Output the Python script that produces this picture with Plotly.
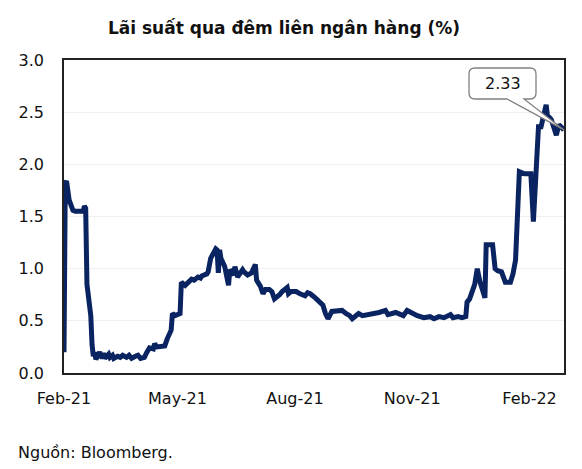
import plotly.graph_objects as go

dates = [
    "2021-02-01", "2021-02-02", "2021-02-03", "2021-02-04", "2021-02-05", "2021-02-08",
    "2021-02-09", "2021-02-10", "2021-02-15", "2021-02-16", "2021-02-17", "2021-02-18",
    "2021-02-19", "2021-02-22", "2021-02-23", "2021-02-24", "2021-02-25", "2021-02-26",
    "2021-03-01", "2021-03-02", "2021-03-03", "2021-03-04", "2021-03-05", "2021-03-08",
    "2021-03-09", "2021-03-11", "2021-03-12", "2021-03-15", "2021-03-17", "2021-03-19",
    "2021-03-22", "2021-03-24", "2021-03-26", "2021-03-29", "2021-03-31", "2021-04-02",
    "2021-04-05", "2021-04-07", "2021-04-09", "2021-04-12", "2021-04-13", "2021-04-15",
    "2021-04-19", "2021-04-21", "2021-04-23", "2021-04-26", "2021-04-27", "2021-04-29",
    "2021-05-03", "2021-05-04", "2021-05-07", "2021-05-10", "2021-05-12", "2021-05-14",
    "2021-05-17", "2021-05-19", "2021-05-20", "2021-05-24", "2021-05-25", "2021-05-27",
    "2021-05-31", "2021-06-01", "2021-06-02", "2021-06-03", "2021-06-04", "2021-06-07",
    "2021-06-08", "2021-06-10", "2021-06-11", "2021-06-14", "2021-06-15", "2021-06-17",
    "2021-06-21", "2021-06-22", "2021-06-25", "2021-06-28", "2021-07-01", "2021-07-02",
    "2021-07-05", "2021-07-07", "2021-07-09", "2021-07-12", "2021-07-14", "2021-07-16",
    "2021-07-20", "2021-07-22", "2021-07-26", "2021-07-27", "2021-07-29", "2021-08-02",
    "2021-08-05", "2021-08-09", "2021-08-11", "2021-08-13", "2021-08-17", "2021-08-20",
    "2021-08-23", "2021-08-25", "2021-08-27", "2021-08-30", "2021-09-03", "2021-09-07",
    "2021-09-10", "2021-09-13", "2021-09-15", "2021-09-20", "2021-09-23", "2021-09-27",
    "2021-10-01", "2021-10-06", "2021-10-11", "2021-10-13", "2021-10-19", "2021-10-22",
    "2021-10-25", "2021-10-28", "2021-11-02", "2021-11-05", "2021-11-10", "2021-11-15",
    "2021-11-18", "2021-11-22", "2021-11-26", "2021-12-01", "2021-12-03", "2021-12-07",
    "2021-12-10", "2021-12-13", "2021-12-14", "2021-12-16", "2021-12-20", "2021-12-22",
    "2021-12-24", "2021-12-28", "2021-12-29", "2022-01-03", "2022-01-05", "2022-01-07",
    "2022-01-10", "2022-01-13", "2022-01-17", "2022-01-19", "2022-01-21", "2022-01-24",
    "2022-01-28", "2022-02-02", "2022-02-04", "2022-02-07", "2022-02-08", "2022-02-10",
    "2022-02-14", "2022-02-15", "2022-02-18", "2022-02-22", "2022-02-24", "2022-02-28",
]

rates = [
    0.20, 1.82, 1.84, 1.69, 1.66, 1.56,
    1.55, 1.55, 1.55, 1.55, 1.60, 1.58,
    0.85, 0.55, 0.27, 0.16, 0.20, 0.13,
    0.20, 0.15, 0.14, 0.19, 0.14, 0.18,
    0.15, 0.17, 0.14, 0.16, 0.15, 0.17,
    0.15, 0.17, 0.14, 0.16, 0.17, 0.14,
    0.15, 0.20, 0.24, 0.23, 0.28, 0.25,
    0.25, 0.26, 0.33, 0.41, 0.57, 0.55,
    0.57, 0.87, 0.84, 0.88, 0.90, 0.89,
    0.92, 0.91, 0.93, 0.95, 0.97, 1.10,
    1.19, 1.18, 0.96, 1.18, 1.10, 1.02,
    0.95, 0.84, 0.99, 0.94, 1.02, 0.92,
    0.99, 0.97, 0.94, 0.96, 1.04, 0.89,
    0.83, 0.76, 0.80, 0.80, 0.78, 0.71,
    0.75, 0.78, 0.82, 0.76, 0.78, 0.78,
    0.76, 0.74, 0.77, 0.76, 0.72, 0.69,
    0.65, 0.57, 0.52, 0.59, 0.59, 0.60,
    0.57, 0.55, 0.52, 0.57, 0.55, 0.56,
    0.56, 0.58, 0.60, 0.56, 0.58, 0.56,
    0.55, 0.60, 0.56, 0.55, 0.53, 0.54,
    0.52, 0.54, 0.53, 0.56, 0.53, 0.54,
    0.53, 0.54, 0.68, 0.71, 0.85, 1.00,
    0.88, 0.72, 1.23, 1.23, 1.00, 0.98,
    0.97, 0.87, 0.87, 0.95, 1.08, 1.93,
    1.91, 1.91, 1.45, 2.19, 2.36, 2.36,
    2.57, 2.47, 2.43, 2.28, 2.38, 2.33,
]

tick_dates = ["2021-02-01", "2021-05-01", "2021-08-01", "2021-11-01", "2022-02-01"]
tick_labels = ["Feb-21", "May-21", "Aug-21", "Nov-21", "Feb-22"]
y_ticks = [0.0, 0.5, 1.0, 1.5, 2.0, 2.5, 3.0]

title_text = "Lãi suất qua đêm liên ngân hàng (%)"
source_text = "Nguồn: Bloomberg."
callout_text = f"{rates[-1]:.2f}"

FONT = "DejaVu Sans"
W, H = 582, 469
L, R, T, B = 64, 18, 60, 96
pw, ph = W - L - R, H - T - B

fig = go.Figure()
fig.add_trace(go.Scatter(
    x=dates, y=rates, mode="lines",
    line=dict(color="#0a2462", width=5),
    hoverinfo="skip", showlegend=False,
))


def px(xp):
    return (xp - L) / pw


def py(yp):
    return (H - B - yp) / ph


# callout bubble (paper coordinates), tip at the last data point
bx0, bx1, by0, by1 = 469, 536, 68, 99
r = 6
tip_x = 1.0
tip_y = rates[-1] / 3.0
w0, w1 = 507, 524
rx, ry = r / pw, r / ph
path = (
    f"M {px(bx0)+rx},{py(by0)} "
    f"L {px(bx1)-rx},{py(by0)} Q {px(bx1)},{py(by0)} {px(bx1)},{py(by0)-ry} "
    f"L {px(bx1)},{py(by1)+ry} Q {px(bx1)},{py(by1)} {px(bx1)-rx},{py(by1)} "
    f"L {px(w1)},{py(by1)} L {tip_x},{tip_y} L {px(w0)},{py(by1)} "
    f"L {px(bx0)+rx},{py(by1)} Q {px(bx0)},{py(by1)} {px(bx0)},{py(by1)+ry} "
    f"L {px(bx0)},{py(by0)-ry} Q {px(bx0)},{py(by0)} {px(bx0)+rx},{py(by0)} Z"
)
fig.add_shape(type="path", path=path, xref="paper", yref="paper",
              line=dict(color="#808080", width=1.3), fillcolor="white", layer="above")

fig.add_annotation(x=px((bx0 + bx1) / 2), y=py((by0 + by1) / 2), xref="paper", yref="paper",
                   text=callout_text, showarrow=False, xanchor="center", yanchor="middle",
                   font=dict(family=FONT, size=16, color="#111"))

fig.add_annotation(x=px(16), y=py(452), xref="paper", yref="paper",
                   text=source_text, showarrow=False, xanchor="left", yanchor="middle",
                   font=dict(family=FONT, size=16, color="#111"))

fig.update_layout(
    width=W, height=H,
    margin=dict(l=L, r=R, t=T, b=B),
    paper_bgcolor="white", plot_bgcolor="white",
    title=dict(text=f"<b>{title_text}</b>", x=284 / W, xanchor="center", xref="container",
               y=1 - 28 / H, yanchor="middle", yref="container",
               font=dict(family=FONT, size=17, color="#111")),
    xaxis=dict(
        type="date", range=[dates[0], dates[-1]],
        tickmode="array", tickvals=tick_dates, ticktext=tick_labels,
        showgrid=False, showline=True, linecolor="#222", linewidth=1.5, mirror=True,
        ticks="", ticklabelstandoff=10,
        tickfont=dict(family=FONT, size=16, color="#111"), zeroline=False,
    ),
    yaxis=dict(
        range=[0, 3], tickmode="array", tickvals=y_ticks,
        ticktext=[f"{v:.1f}" for v in y_ticks],
        showgrid=True, gridcolor="#efefef", gridwidth=1,
        showline=True, linecolor="#222", linewidth=1.5, mirror=True,
        ticks="", ticklabelstandoff=15,
        tickfont=dict(family=FONT, size=16, color="#111"), zeroline=False,
    ),
)

fig.write_html("out.html")
